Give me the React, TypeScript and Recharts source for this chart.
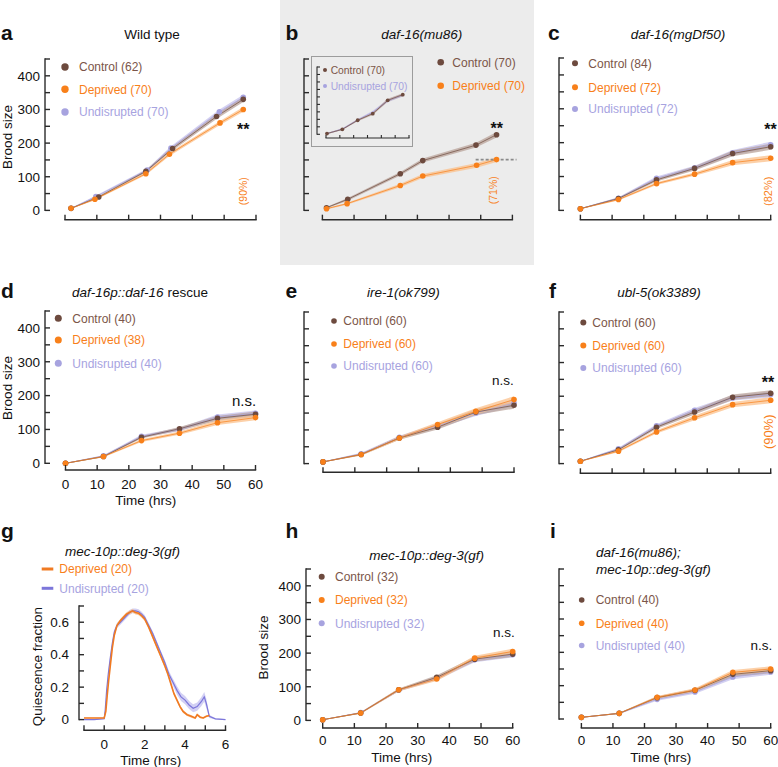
import React from 'react';
import { ComposedChart, Line, Area, XAxis, YAxis, ReferenceLine } from 'recharts';

const FONT = '"Liberation Sans", Arial, Helvetica, sans-serif';
const AXIS = '#2a2a2a';
const CTRL = '#6d4a3e';
const CTRL_TXT = '#7b5548';
const DEP = '#f8801a';
const UND = '#a7a3df';
const CTRL_BAND = '#b9a39a';
const DEP_BAND = '#fbc08b';
const UND_BAND = '#c6c2ec';
const G_UND = '#7c76da';
const G_UND_BAND = '#c3c0f0';

// ---------- ticks ----------
const broodTicks = [0, 50, 100, 150, 200, 250, 300, 350, 400, 450];
const broodLabelTicks = [0, 100, 200, 300, 400];
const timeTicks = [0, 10, 20, 30, 40, 50, 60];
const gTimeTicks = [-1, 0, 1, 2, 3, 4, 5, 6];
const gTimeLabelTicks = [0, 2, 4, 6];
const gFracTicks = [0, 0.1, 0.2, 0.3, 0.4, 0.5, 0.6, 0.7];
const gFracLabelTicks = [0, 0.2, 0.4, 0.6];

// ---------- data ----------
const stdTime = [0, 12, 24, 36, 48, 60];

// a: Wild type
const aControlTime = [1.9, 10.6, 25.4, 33.8, 47.6, 56.0];
const aDeprivedTime = [1.9, 9.4, 25.4, 32.8, 48.7, 56.0];
const aUndisruptedTime = [1.9, 9.7, 25.8, 33.3, 48.5, 56.0];
const aControl = [6, 40, 116, 184, 279, 330];
const aDeprived = [6, 33, 109, 167, 260, 300];
const aUndisrupted = [6, 41, 120, 185, 293, 336];
const aControlErr = [1, 3, 4, 6, 7, 8];
const aDeprivedErr = [1, 3, 4, 5, 6, 7];
const aUndisruptedErr = [1, 3, 4, 6, 7, 8];

// b: daf-16(mu86)
const bControlTime = [1.3, 8.0, 24.6, 31.7, 48.5, 55.0];
const bDeprivedTime = [1.3, 7.8, 24.6, 31.7, 48.7, 55.0];
const bControl = [8, 33, 109, 148, 194, 225];
const bDeprived = [5, 20, 74, 102, 134, 151];
const bControlErr = [2, 4, 5, 6, 7, 8];
const bDeprivedErr = [2, 3, 5, 6, 7, 7];
// b inset
const bInsetTime = [0.7, 11.8, 22.9, 33.8, 44.6, 55.5];
const bInsetControl = [5, 33, 94, 138, 227, 265];
const bInsetUndisrupted = [5, 35, 96, 148, 224, 262];
const bInsetErr = [4, 5, 7, 9, 10, 10];

// c: daf-16(mgDf50)
const cControl = [5, 35, 90, 124, 168, 188];
const cDeprived = [5, 32, 79, 107, 141, 154];
const cUndisrupted = [5, 36, 95, 126, 170, 194];
const cControlErr = [1, 3, 5, 6, 8, 9];
const cDeprivedErr = [1, 3, 4, 5, 8, 9];
const cUndisruptedErr = [1, 3, 5, 6, 8, 9];

// d: daf-16p::daf-16 rescue
const dControl = [0, 20, 77, 102, 133, 145];
const dDeprived = [0, 20, 67, 89, 120, 135];
const dUndisrupted = [0, 22, 80, 100, 137, 148];
const dErr = [1, 2, 4, 5, 7, 8];

// e: ire-1(ok799)
const eControl = [5, 27, 76, 108, 153, 173];
const eDeprived = [5, 27, 76, 116, 155, 190];
const eUndisrupted = [5, 29, 78, 112, 150, 180];
const eErr = [1, 3, 5, 7, 9, 10];

// f: ubl-5(ok3389)
const fControl = [7, 41, 108, 153, 197, 209];
const fDeprived = [7, 37, 94, 136, 175, 188];
const fUndisrupted = [7, 44, 112, 158, 195, 205];
const fErr = [1, 3, 5, 7, 8, 9];

// g: quiescence
const gDeprivedTime = [-1, -0.5, 0, 0.08, 0.15, 0.22, 0.3, 0.4, 0.5, 0.63, 0.8, 0.95, 1.1, 1.25, 1.4, 1.55, 1.7, 1.85, 2.0, 2.2, 2.4, 2.6, 2.8, 3.0, 3.15, 3.3, 3.45, 3.6, 3.75, 3.9, 4.1, 4.3, 4.5, 4.6, 4.75, 4.9, 5.05, 5.2];
const gDeprived = [0.01, 0.01, 0.01, 0.05, 0.15, 0.24, 0.33, 0.44, 0.52, 0.58, 0.61, 0.63, 0.65, 0.66, 0.67, 0.66, 0.655, 0.64, 0.62, 0.57, 0.51, 0.45, 0.39, 0.33, 0.28, 0.22, 0.16, 0.12, 0.08, 0.05, 0.03, 0.02, 0.01, 0.03, 0.015, 0.01, 0.02, 0.025];
const gDeprivedErr = [0.003, 0.003, 0.003, 0.01, 0.01, 0.012, 0.012, 0.012, 0.012, 0.012, 0.012, 0.012, 0.012, 0.012, 0.012, 0.012, 0.012, 0.012, 0.012, 0.012, 0.012, 0.012, 0.012, 0.012, 0.012, 0.012, 0.012, 0.012, 0.01, 0.01, 0.008, 0.008, 0.006, 0.008, 0.006, 0.006, 0.006, 0.006];
const gUndisruptedTime = [-1, -0.5, 0, 0.05, 0.12, 0.2, 0.3, 0.4, 0.5, 0.63, 0.8, 0.95, 1.1, 1.25, 1.4, 1.55, 1.7, 1.85, 2.0, 2.2, 2.4, 2.6, 2.8, 3.0, 3.2, 3.4, 3.6, 3.8, 4.0, 4.2, 4.4, 4.6, 4.8, 4.95, 5.05, 5.2, 5.5, 6.0];
const gUndisrupted = [0.0, 0.0, 0.005, 0.06, 0.18, 0.28, 0.38, 0.47, 0.54, 0.58, 0.6, 0.62, 0.64, 0.66, 0.67, 0.67, 0.665, 0.65, 0.63, 0.58, 0.53, 0.47, 0.41, 0.35, 0.28, 0.23, 0.18, 0.14, 0.12, 0.09, 0.07, 0.08, 0.11, 0.14, 0.10, 0.02, 0.005, 0.0];
const gUndisruptedErr = [0.003, 0.003, 0.003, 0.01, 0.012, 0.015, 0.015, 0.015, 0.015, 0.015, 0.015, 0.015, 0.015, 0.015, 0.015, 0.015, 0.015, 0.015, 0.015, 0.015, 0.015, 0.015, 0.015, 0.018, 0.02, 0.022, 0.025, 0.025, 0.025, 0.025, 0.025, 0.025, 0.028, 0.03, 0.028, 0.01, 0.004, 0.003];

// h: mec-10p::deg-3(gf)
const hControl = [2, 22, 91, 128, 182, 197];
const hDeprived = [2, 22, 91, 123, 185, 205];
const hUndisrupted = [2, 23, 90, 125, 180, 195];
const hErr = [1, 2, 4, 6, 7, 8];

// i: daf-16(mu86); mec-10p::deg-3(gf)
const iControl = [5, 17, 64, 86, 134, 145];
const iDeprived = [5, 17, 65, 87, 140, 150];
const iUndisrupted = [5, 17, 59, 81, 126, 141];
const iErr = [1, 2, 4, 5, 7, 8];

// legend labels
const aLegend = ['Control (62)', 'Deprived (70)', 'Undisrupted (70)'];
const bLegend = ['Control (70)', 'Deprived (70)'];
const bInsetLegend = ['Control (70)', 'Undisrupted (70)'];
const cLegend = ['Control (84)', 'Deprived (72)', 'Undisrupted (72)'];
const dLegend = ['Control (40)', 'Deprived (38)', 'Undisrupted (40)'];
const eLegend = ['Control (60)', 'Deprived (60)', 'Undisrupted (60)'];
const fLegend = ['Control (60)', 'Deprived (60)', 'Undisrupted (60)'];
const gLegend = ['Deprived (20)', 'Undisrupted (20)'];
const hLegend = ['Control (32)', 'Deprived (32)', 'Undisrupted (32)'];
const iLegend = ['Control (40)', 'Deprived (40)', 'Undisrupted (40)'];

// ---------- helpers ----------
type Row = { x: number; y: number; band: [number, number] };
function rows(t: number[], v: number[], e: number[]): Row[] {
  return t.map((x, i) => ({ x, y: v[i], band: [v[i] - e[i], v[i] + e[i]] as [number, number] }));
}

type Series = {
  name: string;
  data: Row[];
  color: string;
  band: string;
  lineW?: number;
  lineOpacity?: number;
  dots?: boolean;
};

function brood(
  t: { c: number[]; d: number[]; u: number[] },
  c: number[], d: number[], u: number[] | null,
  ec: number[], ed: number[], eu: number[]
): Series[] {
  const s: Series[] = [];
  if (u) s.push({ name: 'Undisrupted', data: rows(t.u, u, eu), color: UND, band: UND_BAND, dots: true });
  s.push({ name: 'Control', data: rows(t.c, c, ec), color: CTRL, band: CTRL_BAND, dots: true });
  s.push({ name: 'Deprived', data: rows(t.d, d, ed), color: DEP, band: DEP_BAND, dots: true });
  return s;
}

const near = (arr: number[], v: number) => arr.some((a) => Math.abs(a - v) < 1e-6);

type Cfg = {
  x0: number; x1: number; yTop: number; yZero: number; axisY: number; axisX: number;
  xMin?: number; xMax?: number; xTicks?: number[]; xLabels?: number[];
  yMax?: number; yTicks?: number[]; yLabels?: number[]; yGap?: number; yFmt?: (v: number) => string;
  tickLen?: number; sw?: number; dotR?: number; fs?: number; xLabOff?: number;
};

function Panel({ cfg, series, refSeg }: { cfg: Cfg; series: Series[]; refSeg?: { x1: number; x2: number; y: number } }) {
  const {
    x0, x1, yTop, yZero, axisY, axisX,
    xMin = 0, xMax = 60, xTicks = timeTicks, xLabels = [],
    yMax = 450, yTicks = broodTicks, yLabels = [], yGap = 5, yFmt = (v: number) => String(v),
    tickLen = 5, sw = 1.4, dotR = 2.8, fs = 13.5, xLabOff = 18.5,
  } = cfg;
  const mt = 10, mr = 14, xh = 34;
  const off = x0 - axisX;
  const yw = off + 50;
  const W = yw + (x1 - x0) + mr;
  const H = mt + (axisY - yTop) + xh;
  const ppu = (yZero - yTop) / yMax;
  const yMin = -(axisY - yZero) / ppu;

  const xTick = (p: any) => {
    const v = p.payload.value;
    const first = Math.abs(v - xTicks[0]) < 1e-6;
    return (
      <g>
        {first && (
          <line x1={p.x} x2={p.x + (x1 - x0)} y1={p.y} y2={p.y} stroke={AXIS} strokeWidth={sw} strokeLinecap="square" />
        )}
        <line x1={p.x} x2={p.x} y1={p.y} y2={p.y - tickLen} stroke={AXIS} strokeWidth={sw} />
        {near(xLabels, v) && (
          <text x={p.x} y={p.y + xLabOff} textAnchor="middle" fontSize={fs} fontFamily={FONT} fill="#111">
            {v}
          </text>
        )}
      </g>
    );
  };

  const yTick = (p: any) => {
    const v = p.payload.value;
    const ax = p.x - off;
    const first = Math.abs(v - yTicks[0]) < 1e-6;
    return (
      <g>
        {first && (
          <line x1={ax} x2={ax} y1={p.y} y2={p.y - (yZero - yTop)} stroke={AXIS} strokeWidth={sw} strokeLinecap="square" />
        )}
        <line x1={ax} x2={ax + tickLen} y1={p.y} y2={p.y} stroke={AXIS} strokeWidth={sw} />
        {near(yLabels, v) && (
          <text x={ax - yGap} y={p.y + 4.8} textAnchor="end" fontSize={fs} fontFamily={FONT} fill="#111">
            {yFmt(v)}
          </text>
        )}
      </g>
    );
  };

  return (
    <div style={{ position: 'absolute', left: x0 - yw, top: yTop - mt, width: W, height: H }}>
      <ComposedChart width={W} height={H} margin={{ top: mt, right: mr, left: 0, bottom: 0 }}>
        <XAxis
          type="number" dataKey="x" domain={[xMin, xMax]} ticks={xTicks} interval={0}
          tick={xTick} tickLine={false} axisLine={false} tickSize={0} tickMargin={0} height={xh}
        />
        <YAxis
          type="number" domain={[yMin, yMax]} ticks={yTicks} interval={0}
          tick={yTick} tickLine={false} axisLine={false} tickSize={0} tickMargin={0} width={yw}
        />
        {series.map((s) => (
          <Area
            key={'band-' + s.name} data={s.data} dataKey="band" type="linear"
            stroke="none" fill={s.band} fillOpacity={0.75} isAnimationActive={false}
            activeDot={false} dot={false}
          />
        ))}
        {series.map((s) => (
          <Line
            key={'line-' + s.name} data={s.data} dataKey="y" type="linear"
            stroke={s.color} strokeWidth={s.lineW ?? 1} strokeOpacity={s.lineOpacity ?? 0.7}
            dot={s.dots ? { r: dotR, fill: s.color, stroke: 'none', strokeWidth: 0, fillOpacity: 1 } : false}
            activeDot={false} isAnimationActive={false}
          />
        ))}
        {refSeg && (
          <ReferenceLine
            segment={[{ x: refSeg.x1, y: refSeg.y }, { x: refSeg.x2, y: refSeg.y }]}
            stroke="#8a8a8a" strokeWidth={1.6} strokeDasharray="3 2" ifOverflow="visible"
          />
        )}
      </ComposedChart>
    </div>
  );
}

// ---------- overlay text helpers ----------
function Txt(props: any) {
  const { x, y, children, size = 13.5, anchor = 'start', fill = '#111', italic = false, bold = false } = props;
  return (
    <text x={x} y={y} fontSize={size} textAnchor={anchor} fill={fill} fontFamily={FONT}
      fontStyle={italic ? 'italic' : 'normal'} fontWeight={bold ? 'bold' : 'normal'}>
      {children}
    </text>
  );
}

function VTxt({ x, y, children, size = 13.5, fill = '#111' }: any) {
  return (
    <text transform={`translate(${x},${y}) rotate(-90)`} x={0} y={0} fontSize={size} textAnchor="middle"
      fill={fill} fontFamily={FONT}>
      {children}
    </text>
  );
}

function VPct({ x, y, children, size }: any) {
  return (
    <text transform={`translate(${x},${y}) rotate(-90)`} x={0} y={0} fontSize={size} textAnchor="middle"
      dominantBaseline="central" fill={DEP} fontFamily={FONT}>
      {children}
    </text>
  );
}

const LEG_COLORS = { Control: [CTRL, CTRL_TXT], Deprived: [DEP, DEP], Undisrupted: [UND, UND] } as any;

function DotLegend({ labels, dx, tx, ys, r = 3, size = 12 }: any) {
  return (
    <g>
      {labels.map((lab: string, i: number) => {
        const key = lab.split(' ')[0];
        const [dc, tc] = LEG_COLORS[key];
        return (
          <g key={lab + i}>
            <circle cx={dx} cy={ys[i]} r={r} fill={dc} />
            <text x={tx} y={ys[i] + size * 0.36} fontSize={size} fill={tc} fontFamily={FONT}>{lab}</text>
          </g>
        );
      })}
    </g>
  );
}

export default function App() {
  const std = { c: stdTime, d: stdTime, u: stdTime };
  return (
    <div style={{ position: 'absolute', left: 0, top: 0, width: 778, height: 767, overflow: 'hidden', background: '#fff' }}>
      {/* panel b grey background */}
      <div style={{ position: 'absolute', left: 280, top: 0, width: 254, height: 265, background: '#ececec' }} />
      <div style={{ position: 'absolute', left: 311, top: 56, width: 102, height: 91, border: '1px solid #9c9c9c', boxSizing: 'border-box' }} />

      {/* a */}
      <Panel
        cfg={{ x0: 65, x1: 256, yTop: 59.3, yZero: 210.7, axisY: 220, axisX: 45, yLabels: broodLabelTicks }}
        series={brood({ c: aControlTime, d: aDeprivedTime, u: aUndisruptedTime }, aControl, aDeprived, aUndisrupted, aControlErr, aDeprivedErr, aUndisruptedErr)}
      />
      {/* b */}
      <Panel
        cfg={{ x0: 322.7, x1: 512.7, yTop: 59.3, yZero: 210.7, axisY: 220, axisX: 304.3 }}
        series={brood({ c: bControlTime, d: bDeprivedTime, u: bControlTime }, bControl, bDeprived, null, bControlErr, bDeprivedErr, bControlErr)}
        refSeg={{ x1: 48.4, x2: 61.3, y: 151 }}
      />
      {/* b inset */}
      <Panel
        cfg={{ x0: 326, x1: 409, yTop: 66.7, yZero: 134, axisY: 137.7, axisX: 317, tickLen: 3, sw: 1.1, dotR: 1.9 }}
        series={[
          { name: 'Undisrupted', data: rows(bInsetTime, bInsetUndisrupted, bInsetErr), color: UND, band: UND_BAND, dots: false },
          { name: 'Control', data: rows(bInsetTime, bInsetControl, bInsetErr), color: CTRL, band: CTRL_BAND, dots: true },
        ]}
      />
      {/* c */}
      <Panel
        cfg={{ x0: 580.7, x1: 771, yTop: 58.3, yZero: 210.7, axisY: 220, axisX: 559.3 }}
        series={brood(std, cControl, cDeprived, cUndisrupted, cControlErr, cDeprivedErr, cUndisruptedErr)}
      />
      {/* d */}
      <Panel
        cfg={{ x0: 65, x1: 255, yTop: 311, yZero: 463.3, axisY: 470, axisX: 44.5, yLabels: broodLabelTicks, xLabels: timeTicks }}
        series={brood(std, dControl, dDeprived, dUndisrupted, dErr, dErr, dErr)}
      />
      {/* e */}
      <Panel
        cfg={{ x0: 323.3, x1: 514.3, yTop: 311.7, yZero: 463.3, axisY: 472, axisX: 304.3 }}
        series={brood(std, eControl, eDeprived, eUndisrupted, eErr, eErr, eErr)}
      />
      {/* f */}
      <Panel
        cfg={{ x0: 580.7, x1: 771, yTop: 311.7, yZero: 463.3, axisY: 473, axisX: 559.3 }}
        series={brood(std, fControl, fDeprived, fUndisrupted, fErr, fErr, fErr)}
      />
      {/* g */}
      <Panel
        cfg={{
          x0: 84, x1: 225.5, yTop: 605.7, yZero: 719.3, axisY: 730, axisX: 79,
          xMin: -1, xMax: 6, xTicks: gTimeTicks, xLabels: gTimeLabelTicks,
          yMax: 0.7, yTicks: gFracTicks, yLabels: gFracLabelTicks, yGap: 10,
          yFmt: (v: number) => (v === 0 ? '0' : v.toFixed(1)),
        }}
        series={[
          { name: 'Undisrupted', data: rows(gUndisruptedTime, gUndisrupted, gUndisruptedErr), color: G_UND, band: G_UND_BAND, lineW: 1.2, lineOpacity: 1, dots: false },
          { name: 'Deprived', data: rows(gDeprivedTime, gDeprived, gDeprivedErr), color: '#f07a22', band: DEP_BAND, lineW: 1.6, lineOpacity: 1, dots: false },
        ]}
      />
      {/* h */}
      <Panel
        cfg={{ x0: 322.7, x1: 512.7, yTop: 569.3, yZero: 720.7, axisY: 728.3, axisX: 306, yLabels: broodLabelTicks, xLabels: timeTicks, xLabOff: 17.5 }}
        series={brood(std, hControl, hDeprived, hUndisrupted, hErr, hErr, hErr)}
      />
      {/* i */}
      <Panel
        cfg={{ x0: 581.7, x1: 771, yTop: 569.3, yZero: 719.3, axisY: 728.3, axisX: 559.3, xLabels: timeTicks, xLabOff: 17.5 }}
        series={brood(std, iControl, iDeprived, iUndisrupted, iErr, iErr, iErr)}
      />

      {/* overlay text */}
      <svg width={778} height={767} style={{ position: 'absolute', left: 0, top: 0, pointerEvents: 'none' }}>
        {/* panel letters */}
        <Txt x={1} y={39.5} size={21} bold>a</Txt>
        <Txt x={285.5} y={39.5} size={21} bold>b</Txt>
        <Txt x={548} y={39.5} size={21} bold>c</Txt>
        <Txt x={1} y={298} size={21} bold>d</Txt>
        <Txt x={285.5} y={298} size={21} bold>e</Txt>
        <Txt x={549} y={298} size={21} bold>f</Txt>
        <Txt x={1} y={538} size={21} bold>g</Txt>
        <Txt x={285.5} y={538} size={21} bold>h</Txt>
        <Txt x={550} y={538} size={21} bold>i</Txt>

        {/* titles */}
        <Txt x={152} y={39} anchor="middle">Wild type</Txt>
        <Txt x={421.7} y={39} anchor="middle" italic>daf-16(mu86)</Txt>
        <Txt x={678} y={39} anchor="middle" italic>daf-16(mgDf50)</Txt>
        <text x={140} y={297} fontSize={13.5} textAnchor="middle" fontFamily={FONT} fill="#111">
          <tspan fontStyle="italic">daf-16p::daf-16</tspan>
          <tspan> rescue</tspan>
        </text>
        <Txt x={403.3} y={297} anchor="middle" italic>ire-1(ok799)</Txt>
        <Txt x={659} y={297} anchor="middle" italic>ubl-5(ok3389)</Txt>
        <Txt x={122.5} y={555.5} anchor="middle" italic>mec-10p::deg-3(gf)</Txt>
        <Txt x={426.7} y={559.5} anchor="middle" italic>mec-10p::deg-3(gf)</Txt>
        <Txt x={596} y={556.5} italic>daf-16(mu86);</Txt>
        <Txt x={596} y={573.5} italic>mec-10p::deg-3(gf)</Txt>

        {/* axis titles */}
        <VTxt x={12} y={137}>Brood size</VTxt>
        <VTxt x={11.7} y={388}>Brood size</VTxt>
        <VTxt x={267.5} y={647.5}>Brood size</VTxt>
        <VTxt x={42} y={666.7}>Quiescence fraction</VTxt>
        <Txt x={145.7} y={505} anchor="middle">Time (hrs)</Txt>
        <Txt x={150.7} y={764.5} anchor="middle">Time (hrs)</Txt>
        <Txt x={401.7} y={761.5} anchor="middle">Time (hrs)</Txt>
        <Txt x={660.8} y={761.5} anchor="middle">Time (hrs)</Txt>

        {/* legends */}
        <DotLegend labels={aLegend} dx={65} tx={79} ys={[67, 89.3, 112]} r={3.7} />
        <DotLegend labels={bLegend} dx={440.7} tx={452.3} ys={[62.3, 85.7]} r={3.3} />
        <DotLegend labels={bInsetLegend} dx={325} tx={330.7} ys={[70, 86]} r={2} size={10.3} />
        <DotLegend labels={cLegend} dx={575} tx={588.3} ys={[63.3, 87.3, 109]} r={3} />
        <DotLegend labels={dLegend} dx={58.3} tx={72.3} ys={[318.3, 340, 363.3]} r={3.5} />
        <DotLegend labels={eLegend} dx={334} tx={343.3} ys={[321, 344, 366]} r={2.8} />
        <DotLegend labels={fLegend} dx={583.3} tx={592.3} ys={[322.5, 345.5, 368]} r={3} />
        <DotLegend labels={hLegend} dx={321.7} tx={335} ys={[576.7, 600, 623.3]} r={3} />
        <DotLegend labels={iLegend} dx={581.7} tx={595.7} ys={[600, 623.3, 645.5]} r={2.8} />
        {/* g legend (lines) */}
        <line x1={41.7} x2={53.3} y1={569} y2={569} stroke="#f07a22" strokeWidth={3} />
        <text x={59.3} y={573.3} fontSize={12} fill={DEP} fontFamily={FONT}>{gLegend[0]}</text>
        <line x1={41.7} x2={53.3} y1={588.3} y2={588.3} stroke={G_UND} strokeWidth={3} />
        <text x={59.3} y={592.6} fontSize={12} fill={UND} fontFamily={FONT}>{gLegend[1]}</text>

        {/* significance marks */}
        <Txt x={243.3} y={135} anchor="middle" size={16} bold>**</Txt>
        <Txt x={496.7} y={134.4} anchor="middle" size={16} bold>**</Txt>
        <Txt x={770.5} y={135} anchor="middle" size={16} bold>**</Txt>
        <Txt x={768} y={387.7} anchor="middle" size={16} bold>**</Txt>
        <Txt x={232} y={406} size={15}>n.s.</Txt>
        <Txt x={492} y={385} size={13.5}>n.s.</Txt>
        <Txt x={493} y={637.3} size={13.5}>n.s.</Txt>
        <Txt x={750.5} y={650} size={13.5}>n.s.</Txt>

        {/* percentages */}
        <VPct x={242.5} y={191.2} size={10.5}>(90%)</VPct>
        <VPct x={493} y={190.3} size={10.5}>(71%)</VPct>
        <VPct x={768.3} y={191.3} size={11}>(82%)</VPct>
        <VPct x={768.7} y={431.7} size={13}>(90%)</VPct>
      </svg>
    </div>
  );
}
